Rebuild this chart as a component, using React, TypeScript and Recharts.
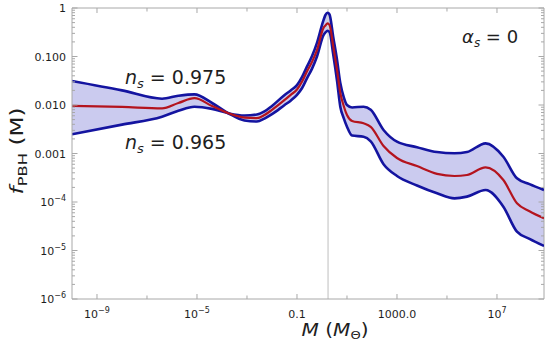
import React from 'react'
import { ComposedChart, Area, Line, XAxis, YAxis, ReferenceLine } from 'recharts'

// PBH mass M in solar masses
const masses = [
  1e-10, 1e-8, 4e-7, 1.8e-6, 7.9e-6, 4e-5, 1.8e-4, 7.9e-4, 2.5e-3, 5e-3, 0.01,
  0.032, 0.056, 0.1, 0.16, 0.25, 0.4, 0.63, 1.15, 1.38, 1.66, 2.0, 2.8, 4.0, 5.4, 7.4,
  10, 16, 46, 89, 290, 1000, 6300, 4.0e4, 2.0e5, 6.3e5, 3.5e6, 1.8e7, 6.3e7, 2.0e8, 7.6e8,
]

// f_PBH(M) for n_s = 0.975
const fNs975 = [
  0.0313, 0.02, 0.0135, 0.0155, 0.0166, 0.011, 0.00676, 0.00479, 0.00457, 0.00525, 0.00646,
  0.01, 0.0123, 0.0162, 0.0224, 0.0355, 0.0562, 0.1, 0.275, 0.313, 0.34, 0.32, 0.112, 0.0316, 0.00923, 0.00537,
  0.00357, 0.00234, 0.00222, 0.00178, 0.000603, 0.000344, 0.000219, 0.000151, 0.000119, 0.000129, 0.000177,
  0.00008, 0.0000244, 0.0000174, 0.0000124,
]

// central value
const fCentral = [
  0.00955, 0.00912, 0.00851, 0.011, 0.0138, 0.00955, 0.00676, 0.0055, 0.00537, 0.00622, 0.00794,
  0.0127, 0.0162, 0.0209, 0.0305, 0.049, 0.0776, 0.135, 0.389, 0.436, 0.483, 0.447, 0.166, 0.0525, 0.0177, 0.00955,
  0.00622, 0.00468, 0.0042, 0.00355, 0.00143, 0.000807, 0.00055, 0.00038, 0.000344, 0.000361, 0.000519,
  0.000284, 0.000094, 0.0000646, 0.0000461,
]

// f_PBH(M) for n_s = 0.965
const fNs965 = [
  0.00249, 0.00394, 0.00575, 0.00759, 0.00923, 0.00832, 0.00676, 0.00608, 0.00637, 0.00735, 0.00955,
  0.0161, 0.02, 0.0257, 0.038, 0.0617, 0.102, 0.191, 0.562, 0.718, 0.8, 0.735, 0.257, 0.085, 0.0284, 0.0146,
  0.01, 0.00891, 0.00923, 0.00794, 0.00305, 0.00175, 0.00135, 0.00107, 0.00101, 0.00107, 0.00162,
  0.000859, 0.000308, 0.000234, 0.000177,
]

const xTicks = [1e-9, 1e-7, 1e-5, 1e-3, 0.1, 10, 1000, 1e5, 1e7]
const yDecades = [-6, -5, -4, -3, -2, -1, 0]
const peakMass = 1.75

const data = masses.map((m, i) => ({
  m,
  a: fNs975[i],
  b: fNs965[i],
  c: fCentral[i],
  band: [fNs965[i], fNs975[i]],
}))

const yTicks: number[] = []
yDecades.forEach((e) => {
  yTicks.push(Math.pow(10, e))
  if (e < 0) for (let k = 2; k <= 9; k++) yTicks.push(k * Math.pow(10, e))
})

const W = 549
const H = 354
const LEFT = 72
const RIGHT = 544
const TOP = 8
const BOTTOM = 299
const FRAME = '#a8a8a8'
const TXT = '#1e1e1e'
const FONT = '"DejaVu Sans", "Liberation Sans", Arial, sans-serif'
const BLUE = '#1414a0'
const RED = '#b4141e'

const dec = (v: number) => Math.round(Math.log10(v))
const isDecade = (v: number) => Math.abs(Math.log10(v) - dec(v)) < 1e-6

const powLabel = (e: number) => (
  <>
    <tspan>10</tspan>
    <tspan dy={-5} fontSize={8}>{e < 0 ? '\u2212' + Math.abs(e) : String(e)}</tspan>
  </>
)

const XTick = (props: any) => {
  const { x, payload } = props
  const e = dec(payload.value)
  const labelled = (e + 9) % 4 === 0
  let label: any = null
  if (labelled) {
    if (e === -1) label = '0.1'
    else if (e === 3) label = '1000.0'
    else label = powLabel(e)
  }
  const len = labelled ? 5 : 3.5
  return (
    <g>
      <line x1={x} x2={x} y1={BOTTOM} y2={BOTTOM - len} stroke={FRAME} />
      <line x1={x} x2={x} y1={TOP} y2={TOP + len} stroke={FRAME} />
      {label && (
        <text x={x} y={BOTTOM + 19} textAnchor="middle" fontSize={11} fontFamily={FONT} fill={TXT}>
          {label}
        </text>
      )}
    </g>
  )
}

const YTick = (props: any) => {
  const { y, payload } = props
  const v = payload.value
  const major = isDecade(v)
  const len = major ? 5.5 : 3
  let label: any = null
  if (major) {
    const e = dec(v)
    if (e === 0) label = '1'
    else if (e === -1) label = '0.100'
    else if (e === -2) label = '0.010'
    else if (e === -3) label = '0.001'
    else label = powLabel(e)
  }
  return (
    <g>
      <line x1={LEFT} x2={LEFT + len} y1={y} y2={y} stroke={FRAME} />
      <line x1={RIGHT} x2={RIGHT - len} y1={y} y2={y} stroke={FRAME} />
      {label && (
        <text x={LEFT - 6} y={y + 4.2} textAnchor="end" fontSize={11} fontFamily={FONT} fill={TXT}>
          {label}
        </text>
      )}
    </g>
  )
}

export default function App() {
  return (
    <div style={{ position: 'absolute', left: 0, top: 0, background: '#fff' }}>
      <ComposedChart
        width={W}
        height={H}
        data={data}
        margin={{ top: TOP, right: W - RIGHT, bottom: 0, left: 0 }}
      >
        <XAxis
          dataKey="m"
          type="number"
          scale="log"
          domain={[1e-10, 7.6e8]}
          allowDataOverflow
          ticks={xTicks}
          interval={0}
          tick={<XTick />}
          tickLine={false}
          tickSize={0}
          height={H - BOTTOM}
          axisLine={{ stroke: FRAME }}
        />
        <YAxis
          type="number"
          scale="log"
          domain={[1e-6, 1]}
          allowDataOverflow
          ticks={yTicks}
          interval={0}
          tick={<YTick />}
          tickLine={false}
          tickSize={0}
          width={LEFT}
          axisLine={{ stroke: FRAME }}
        />
        <ReferenceLine y={1} stroke={FRAME} />
        <ReferenceLine x={7.6e8} stroke={FRAME} />
        <ReferenceLine x={peakMass} stroke="#d4d4d4" strokeWidth={1.5} />
        <Area
          dataKey="band"
          type="monotone"
          fill="#cbcbef"
          fillOpacity={1}
          stroke="none"
          isAnimationActive={false}
        />
        <Line dataKey="a" type="monotone" stroke={BLUE} strokeWidth={2.6} dot={false} isAnimationActive={false} />
        <Line dataKey="b" type="monotone" stroke={BLUE} strokeWidth={2.6} dot={false} isAnimationActive={false} />
        <Line dataKey="c" type="monotone" stroke={RED} strokeWidth={2.2} dot={false} isAnimationActive={false} />

        <text x={125} y={84} fontSize={19} fontFamily={FONT} fill={TXT}>
          <tspan fontStyle="italic">n</tspan>
          <tspan fontSize={13} dy={4} fontStyle="italic">s</tspan>
          <tspan dy={-4}> = 0.975</tspan>
        </text>
        <text x={125} y={149} fontSize={19} fontFamily={FONT} fill={TXT}>
          <tspan fontStyle="italic">n</tspan>
          <tspan fontSize={13} dy={4} fontStyle="italic">s</tspan>
          <tspan dy={-4}> = 0.965</tspan>
        </text>
        <text x={462} y={43} fontSize={18} fontFamily={FONT} fill={TXT}>
          <tspan fontStyle="italic">α</tspan>
          <tspan fontSize={12} dy={4} fontStyle="italic">s</tspan>
          <tspan dy={-4}> = 0</tspan>
        </text>
        <text
          x={335}
          y={336}
          textAnchor="middle"
          fontSize={17}
          fontFamily={FONT}
          fill={TXT}
          textLength={67}
          lengthAdjust="spacingAndGlyphs"
        >
          <tspan fontStyle="italic">M</tspan>
          <tspan> (</tspan>
          <tspan fontStyle="italic">M</tspan>
          <tspan fontSize={11} dy={3}>Θ</tspan>
          <tspan dy={-3}>)</tspan>
        </text>
        <text
          x={23}
          y={151}
          transform="rotate(-90 23 151)"
          textAnchor="middle"
          fontSize={17}
          fontFamily={FONT}
          fill={TXT}
          textLength={87}
          lengthAdjust="spacingAndGlyphs"
        >
          <tspan fontStyle="italic">f</tspan>
          <tspan fontSize={12} dy={4}>PBH</tspan>
          <tspan dy={-4}> (M)</tspan>
        </text>
      </ComposedChart>
    </div>
  )
}
